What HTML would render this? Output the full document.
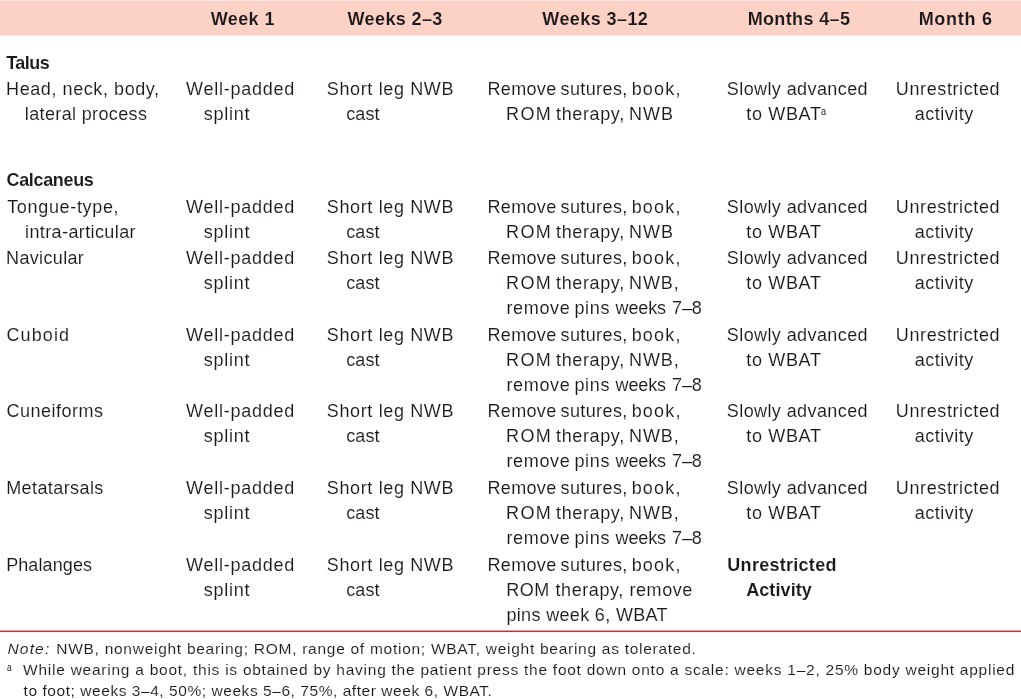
<!DOCTYPE html>
<html><head><meta charset="utf-8"><title>Table</title>
<style>
html,body{margin:0;padding:0;background:#fff;}
body{width:1021px;height:699px;position:relative;overflow:hidden;font-family:"Liberation Sans",sans-serif;color:#1c1819;}
.t{position:absolute;white-space:pre;line-height:1;margin:0;padding:0;}
.t{-webkit-text-stroke:0.1px #fff;}
.b{font-weight:700;-webkit-text-stroke:0.1px #fff;}
.h{-webkit-text-stroke:0.1px #fdd2c6;}
.i{font-style:italic;}
#tx{position:absolute;left:0;top:0;width:1021px;height:699px;will-change:transform;}
</style></head><body>
<svg width="1021" height="699" viewBox="0 0 1021 699" style="position:absolute;left:0;top:0"><rect x="0" y="0.4" width="1021" height="35.2" fill="#fdd2c6"/><rect x="0" y="630.55" width="1021" height="1.5" fill="#ec1f30"/></svg>
<div id="tx">
<div class="t b h" style="left:210.80px;top:10px;font-size:18px;letter-spacing:0.379px">Week 1</div>
<div class="t b h" style="left:347.57px;top:10px;font-size:18px;letter-spacing:0.376px">Weeks 2–3</div>
<div class="t b h" style="left:542.36px;top:10px;font-size:18px;letter-spacing:0.415px">Weeks 3–12</div>
<div class="t b h" style="left:747.63px;top:10px;font-size:18px;letter-spacing:0.373px">Months 4–5</div>
<div class="t b h" style="left:918.63px;top:10px;font-size:18px;letter-spacing:0.725px">Month 6</div>
<div class="t b" style="left:6.17px;top:54px;font-size:18px;letter-spacing:-0.544px">Talus</div>
<div class="t" style="left:6.06px;top:80px;font-size:18px;letter-spacing:0.582px">Head, neck, body,</div>
<div class="t" style="left:24.87px;top:105px;font-size:18px;letter-spacing:0.356px">lateral process</div>
<div class="t b" style="left:6.46px;top:171px;font-size:18px;letter-spacing:-0.327px">Calcaneus</div>
<div class="t" style="left:7.18px;top:198px;font-size:18px;letter-spacing:0.670px">Tongue-type,</div>
<div class="t" style="left:25.06px;top:223px;font-size:18px;letter-spacing:0.389px">intra-articular</div>
<div class="t" style="left:6.06px;top:249px;font-size:18px;letter-spacing:0.348px">Navicular</div>
<div class="t" style="left:6.42px;top:326px;font-size:18px;letter-spacing:1.128px">Cuboid</div>
<div class="t" style="left:6.42px;top:402px;font-size:18px;letter-spacing:0.504px">Cuneiforms</div>
<div class="t" style="left:6.14px;top:479px;font-size:18px;letter-spacing:0.420px">Metatarsals</div>
<div class="t" style="left:6.14px;top:556px;font-size:18px;letter-spacing:0.112px">Phalanges</div>
<div class="t" style="left:186.11px;top:80px;font-size:18px;letter-spacing:0.752px">Well-padded</div>
<div class="t" style="left:203.84px;top:105px;font-size:18px;letter-spacing:0.738px">splint</div>
<div class="t" style="left:326.76px;top:80px;font-size:18px;letter-spacing:0.643px">Short leg NWB</div>
<div class="t" style="left:346.23px;top:105px;font-size:18px;letter-spacing:0.092px">cast</div>
<div class="t" style="left:487.47px;top:80px;font-size:18px;letter-spacing:0.330px">Remove</div>
<div class="t" style="left:560.57px;top:80px;font-size:18px;letter-spacing:0.381px">sutures,</div>
<div class="t" style="left:631.64px;top:80px;font-size:18px;letter-spacing:1.204px">book,</div>
<div class="t" style="left:506.08px;top:105px;font-size:18px;letter-spacing:1.330px">ROM</div>
<div class="t" style="left:556.10px;top:105px;font-size:18px;letter-spacing:0.619px">therapy,</div>
<div class="t" style="left:628.99px;top:105px;font-size:18px;letter-spacing:0.977px">NWB</div>
<div class="t" style="left:726.82px;top:80px;font-size:18px;letter-spacing:0.409px">Slowly advanced</div>
<div class="t" style="left:746.34px;top:105px;font-size:18px;letter-spacing:0.651px">to WBAT</div>
<div class="t" style="left:895.85px;top:80px;font-size:18px;letter-spacing:0.608px">Unrestricted</div>
<div class="t" style="left:914.73px;top:105px;font-size:18px;letter-spacing:0.490px">activity</div>
<div class="t" style="left:186.11px;top:198px;font-size:18px;letter-spacing:0.752px">Well-padded</div>
<div class="t" style="left:203.84px;top:223px;font-size:18px;letter-spacing:0.738px">splint</div>
<div class="t" style="left:326.76px;top:198px;font-size:18px;letter-spacing:0.643px">Short leg NWB</div>
<div class="t" style="left:346.23px;top:223px;font-size:18px;letter-spacing:0.092px">cast</div>
<div class="t" style="left:487.47px;top:198px;font-size:18px;letter-spacing:0.330px">Remove</div>
<div class="t" style="left:560.57px;top:198px;font-size:18px;letter-spacing:0.381px">sutures,</div>
<div class="t" style="left:631.64px;top:198px;font-size:18px;letter-spacing:1.204px">book,</div>
<div class="t" style="left:506.08px;top:223px;font-size:18px;letter-spacing:1.330px">ROM</div>
<div class="t" style="left:556.10px;top:223px;font-size:18px;letter-spacing:0.619px">therapy,</div>
<div class="t" style="left:628.99px;top:223px;font-size:18px;letter-spacing:0.977px">NWB</div>
<div class="t" style="left:726.82px;top:198px;font-size:18px;letter-spacing:0.409px">Slowly advanced</div>
<div class="t" style="left:746.34px;top:223px;font-size:18px;letter-spacing:0.651px">to WBAT</div>
<div class="t" style="left:895.85px;top:198px;font-size:18px;letter-spacing:0.608px">Unrestricted</div>
<div class="t" style="left:914.73px;top:223px;font-size:18px;letter-spacing:0.490px">activity</div>
<div class="t" style="left:186.11px;top:249px;font-size:18px;letter-spacing:0.752px">Well-padded</div>
<div class="t" style="left:203.84px;top:274px;font-size:18px;letter-spacing:0.738px">splint</div>
<div class="t" style="left:326.76px;top:249px;font-size:18px;letter-spacing:0.643px">Short leg NWB</div>
<div class="t" style="left:346.23px;top:274px;font-size:18px;letter-spacing:0.092px">cast</div>
<div class="t" style="left:487.47px;top:249px;font-size:18px;letter-spacing:0.330px">Remove</div>
<div class="t" style="left:560.57px;top:249px;font-size:18px;letter-spacing:0.381px">sutures,</div>
<div class="t" style="left:631.64px;top:249px;font-size:18px;letter-spacing:1.204px">book,</div>
<div class="t" style="left:506.08px;top:274px;font-size:18px;letter-spacing:1.330px">ROM</div>
<div class="t" style="left:556.10px;top:274px;font-size:18px;letter-spacing:0.619px">therapy,</div>
<div class="t" style="left:628.99px;top:274px;font-size:18px;letter-spacing:0.922px">NWB,</div>
<div class="t" style="left:506.41px;top:299px;font-size:18px;letter-spacing:0.662px">remove</div>
<div class="t" style="left:574.43px;top:299px;font-size:18px;letter-spacing:0.674px">pins</div>
<div class="t" style="left:615.61px;top:299px;font-size:18px;letter-spacing:-0.142px">weeks</div>
<div class="t" style="left:671.93px;top:299px;font-size:18px;letter-spacing:-0.044px">7–8</div>
<div class="t" style="left:726.82px;top:249px;font-size:18px;letter-spacing:0.409px">Slowly advanced</div>
<div class="t" style="left:746.34px;top:274px;font-size:18px;letter-spacing:0.651px">to WBAT</div>
<div class="t" style="left:895.85px;top:249px;font-size:18px;letter-spacing:0.608px">Unrestricted</div>
<div class="t" style="left:914.73px;top:274px;font-size:18px;letter-spacing:0.490px">activity</div>
<div class="t" style="left:186.11px;top:326px;font-size:18px;letter-spacing:0.752px">Well-padded</div>
<div class="t" style="left:203.84px;top:351px;font-size:18px;letter-spacing:0.738px">splint</div>
<div class="t" style="left:326.76px;top:326px;font-size:18px;letter-spacing:0.643px">Short leg NWB</div>
<div class="t" style="left:346.23px;top:351px;font-size:18px;letter-spacing:0.092px">cast</div>
<div class="t" style="left:487.47px;top:326px;font-size:18px;letter-spacing:0.330px">Remove</div>
<div class="t" style="left:560.57px;top:326px;font-size:18px;letter-spacing:0.381px">sutures,</div>
<div class="t" style="left:631.64px;top:326px;font-size:18px;letter-spacing:1.204px">book,</div>
<div class="t" style="left:506.08px;top:351px;font-size:18px;letter-spacing:1.330px">ROM</div>
<div class="t" style="left:556.10px;top:351px;font-size:18px;letter-spacing:0.619px">therapy,</div>
<div class="t" style="left:628.99px;top:351px;font-size:18px;letter-spacing:0.922px">NWB,</div>
<div class="t" style="left:506.41px;top:376px;font-size:18px;letter-spacing:0.662px">remove</div>
<div class="t" style="left:574.43px;top:376px;font-size:18px;letter-spacing:0.674px">pins</div>
<div class="t" style="left:615.61px;top:376px;font-size:18px;letter-spacing:-0.142px">weeks</div>
<div class="t" style="left:671.93px;top:376px;font-size:18px;letter-spacing:-0.044px">7–8</div>
<div class="t" style="left:726.82px;top:326px;font-size:18px;letter-spacing:0.409px">Slowly advanced</div>
<div class="t" style="left:746.34px;top:351px;font-size:18px;letter-spacing:0.651px">to WBAT</div>
<div class="t" style="left:895.85px;top:326px;font-size:18px;letter-spacing:0.608px">Unrestricted</div>
<div class="t" style="left:914.73px;top:351px;font-size:18px;letter-spacing:0.490px">activity</div>
<div class="t" style="left:186.11px;top:402px;font-size:18px;letter-spacing:0.752px">Well-padded</div>
<div class="t" style="left:203.84px;top:427px;font-size:18px;letter-spacing:0.738px">splint</div>
<div class="t" style="left:326.76px;top:402px;font-size:18px;letter-spacing:0.643px">Short leg NWB</div>
<div class="t" style="left:346.23px;top:427px;font-size:18px;letter-spacing:0.092px">cast</div>
<div class="t" style="left:487.47px;top:402px;font-size:18px;letter-spacing:0.330px">Remove</div>
<div class="t" style="left:560.57px;top:402px;font-size:18px;letter-spacing:0.381px">sutures,</div>
<div class="t" style="left:631.64px;top:402px;font-size:18px;letter-spacing:1.204px">book,</div>
<div class="t" style="left:506.08px;top:427px;font-size:18px;letter-spacing:1.330px">ROM</div>
<div class="t" style="left:556.10px;top:427px;font-size:18px;letter-spacing:0.619px">therapy,</div>
<div class="t" style="left:628.99px;top:427px;font-size:18px;letter-spacing:0.922px">NWB,</div>
<div class="t" style="left:506.41px;top:452px;font-size:18px;letter-spacing:0.662px">remove</div>
<div class="t" style="left:574.43px;top:452px;font-size:18px;letter-spacing:0.674px">pins</div>
<div class="t" style="left:615.61px;top:452px;font-size:18px;letter-spacing:-0.142px">weeks</div>
<div class="t" style="left:671.93px;top:452px;font-size:18px;letter-spacing:-0.044px">7–8</div>
<div class="t" style="left:726.82px;top:402px;font-size:18px;letter-spacing:0.409px">Slowly advanced</div>
<div class="t" style="left:746.34px;top:427px;font-size:18px;letter-spacing:0.651px">to WBAT</div>
<div class="t" style="left:895.85px;top:402px;font-size:18px;letter-spacing:0.608px">Unrestricted</div>
<div class="t" style="left:914.73px;top:427px;font-size:18px;letter-spacing:0.490px">activity</div>
<div class="t" style="left:186.11px;top:479px;font-size:18px;letter-spacing:0.752px">Well-padded</div>
<div class="t" style="left:203.84px;top:504px;font-size:18px;letter-spacing:0.738px">splint</div>
<div class="t" style="left:326.76px;top:479px;font-size:18px;letter-spacing:0.643px">Short leg NWB</div>
<div class="t" style="left:346.23px;top:504px;font-size:18px;letter-spacing:0.092px">cast</div>
<div class="t" style="left:487.47px;top:479px;font-size:18px;letter-spacing:0.330px">Remove</div>
<div class="t" style="left:560.57px;top:479px;font-size:18px;letter-spacing:0.381px">sutures,</div>
<div class="t" style="left:631.64px;top:479px;font-size:18px;letter-spacing:1.204px">book,</div>
<div class="t" style="left:506.08px;top:504px;font-size:18px;letter-spacing:1.330px">ROM</div>
<div class="t" style="left:556.10px;top:504px;font-size:18px;letter-spacing:0.619px">therapy,</div>
<div class="t" style="left:628.99px;top:504px;font-size:18px;letter-spacing:0.922px">NWB,</div>
<div class="t" style="left:506.41px;top:529px;font-size:18px;letter-spacing:0.662px">remove</div>
<div class="t" style="left:574.43px;top:529px;font-size:18px;letter-spacing:0.674px">pins</div>
<div class="t" style="left:615.61px;top:529px;font-size:18px;letter-spacing:-0.142px">weeks</div>
<div class="t" style="left:671.93px;top:529px;font-size:18px;letter-spacing:-0.044px">7–8</div>
<div class="t" style="left:726.82px;top:479px;font-size:18px;letter-spacing:0.409px">Slowly advanced</div>
<div class="t" style="left:746.34px;top:504px;font-size:18px;letter-spacing:0.651px">to WBAT</div>
<div class="t" style="left:895.85px;top:479px;font-size:18px;letter-spacing:0.608px">Unrestricted</div>
<div class="t" style="left:914.73px;top:504px;font-size:18px;letter-spacing:0.490px">activity</div>
<div class="t" style="left:186.11px;top:556px;font-size:18px;letter-spacing:0.752px">Well-padded</div>
<div class="t" style="left:203.84px;top:581px;font-size:18px;letter-spacing:0.738px">splint</div>
<div class="t" style="left:326.76px;top:556px;font-size:18px;letter-spacing:0.643px">Short leg NWB</div>
<div class="t" style="left:346.23px;top:581px;font-size:18px;letter-spacing:0.092px">cast</div>
<div class="t" style="left:487.47px;top:556px;font-size:18px;letter-spacing:0.330px">Remove</div>
<div class="t" style="left:560.57px;top:556px;font-size:18px;letter-spacing:0.381px">sutures,</div>
<div class="t" style="left:631.64px;top:556px;font-size:18px;letter-spacing:1.204px">book,</div>
<div class="t" style="left:506.22px;top:581px;font-size:18px;letter-spacing:0.578px">ROM therapy, remove</div>
<div class="t" style="left:506.43px;top:606px;font-size:18px;letter-spacing:0.340px">pins week 6, WBAT</div>
<div class="t b" style="left:727.33px;top:556px;font-size:18px;letter-spacing:0.278px">Unrestricted</div>
<div class="t b" style="left:746.14px;top:581px;font-size:18px;letter-spacing:0.104px">Activity</div>
<div class="t i" style="left:7.52px;top:641px;font-size:15.5px;letter-spacing:1.163px">Note:</div>
<div class="t" style="left:56.25px;top:641px;font-size:15.5px;letter-spacing:0.728px">NWB, nonweight bearing; ROM, range of motion; WBAT, weight bearing as tolerated.</div>
<div class="t" style="left:23.10px;top:662px;font-size:15.5px;letter-spacing:0.750px">While wearing a boot, this is obtained by having the patient press the foot down onto a scale: weeks 1–2, 25% body weight applied</div>
<div class="t" style="left:23.62px;top:683px;font-size:15.5px;letter-spacing:0.553px">to foot; weeks 3–4, 50%; weeks 5–6, 75%, after week 6, WBAT.</div>
<div class="t" style="left:821.2px;top:107px;font-size:10px;-webkit-text-stroke:0;transform:scaleX(.9);transform-origin:0 0">a</div>
<div class="t" style="left:6.6px;top:662.8px;font-size:10px;-webkit-text-stroke:0;transform:scaleX(.85);transform-origin:0 0">a</div>
</div>
</body></html>
